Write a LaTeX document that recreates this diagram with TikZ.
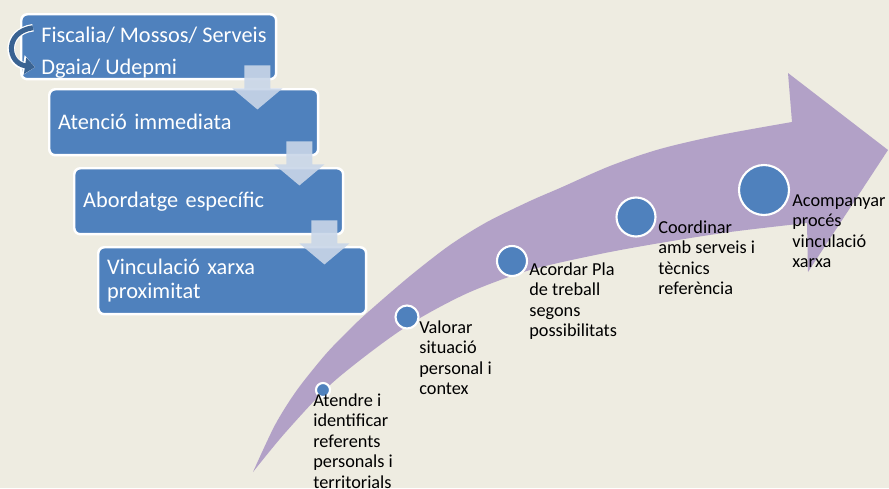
\documentclass[tikz,border=0pt]{standalone}
\usepackage{fontspec}
\setmainfont{Carlito}
\usetikzlibrary{arrows.meta,calc}
\definecolor{bgtan}{HTML}{EEECE1}
\definecolor{lilac}{HTML}{B2A1C7}
\definecolor{stepblue}{HTML}{4F81BD}
\definecolor{darkblue}{HTML}{3A6392}
\definecolor{paleblue}{HTML}{C9D6E8}
\tikzset{
  >=latex,
  stage/.style={draw=white, line width=1.4pt, fill=stepblue, rounded corners=3.5pt,
    anchor=north west, text=white, align=left, text width=#1, inner xsep=0.18cm,
    inner ysep=0pt, font=\fontsize{12.7}{13.6}\selectfont},
  boxtext/.style={text=white, inner sep=0pt, anchor=base west,
    font=\fontsize{12.7}{13.6}\selectfont},
  stepdot/.style={circle, fill=stepblue, draw=white, line width=1.2pt, inner sep=0pt},
  steptext/.style={anchor=north west, inner sep=0pt, align=left,
    font=\fontsize{10.4}{11.7}\selectfont},
  downarrow/.style={fill=paleblue, fill opacity=0.9},
  curvarr/.style={draw=darkblue, line width=0.1cm, -{Triangle[length=0.2cm,width=0.32cm]},
    preaction={draw=white, line width=0.15cm, -{Triangle[length=0.24cm,width=0.4cm]}}}
}
\begin{document}
\begin{tikzpicture}[x=0.02cm,y=-0.02cm]
      \useasboundingbox (0,0) rectangle (889,488);
      \fill[bgtan] (0,0) rectangle (889,488);
      % big curved arrow
      \fill[lilac] plot[smooth] coordinates {(253,472) (275,425) (297,390) (325,355)
        (347,332) (367,313) (410,276) (450,245) (487,222) (530,201) (560,188)
        (610,166) (660,149) (720,135) (792,122)}
        -- (788,73) -- (888,150) -- (808,272) -- (807,223)
        -- plot[smooth] coordinates {(807,223) (730,232) (660,243) (600,254)
        (530,270) (470,292) (420,318) (380,345) (330,385) (285,433) (253,472)}
        -- cycle;
      % boxes
      \node[stage=4.74cm, minimum height=1.3cm] (b1) at (20,13) {};
      \node[stage=5.02cm, minimum height=1.32cm] (b2) at (48,88) {Atenció immediata};
      \node[stage=5.02cm, minimum height=1.32cm] (b3) at (73,167) {Abordatge específic};
      \node[stage=5.0cm, minimum height=1.34cm] (b4) at (97,246) {Vinculació xarxa\\proximitat};
      \node[boxtext] (fis) at (41,42) {Fiscalia/ Mossos/ Serveis};
      \node[boxtext] (dga) at (41,74) {Dgaia/ Udepmi};
      \draw[curvarr] ($(fis.west)+(-8,-7)$) .. controls +(-29,4) and +(-28,-4)
        .. ($(dga.west)+(-6,-1)$);
      \foreach \a in {b1,b2,b3}
      \fill[downarrow, shift={(\a.south east)}] (-33,-15) -- (-7,-15) -- (-7,8)
        -- (5,8) -- (-20,29) -- (-45,8) -- (-33,8) -- cycle;
      % steps
      \node[stepdot, minimum size=0.28cm] (c1) at (323,390) {};
      \node[stepdot, minimum size=0.46cm] (c2) at (407,317) {};
      \node[stepdot, minimum size=0.6cm] (c3) at (512,261) {};
      \node[stepdot, minimum size=0.78cm] (c4) at (636,217) {};
      \node[stepdot, minimum size=1.0cm] (c5) at (764,190) {};
      \node[steptext] (t1) at (313,393) {Atendre i\\identificar\\referents\\personals i\\territorials};
      \node[steptext] (t2) at (419,320) {Valorar\\situació\\personal i\\contex};
      \node[steptext] (t3) at (529,262) {Acordar Pla\\de treball\\segons\\possibilitats};
      \node[steptext] (t4) at (658,220) {Coordinar\\amb serveis i\\tècnics\\referència};
      \node[steptext] (t5) at (792,194) {Acompanyar\\procés\\vinculació\\xarxa};
    \end{tikzpicture}
\end{document}
